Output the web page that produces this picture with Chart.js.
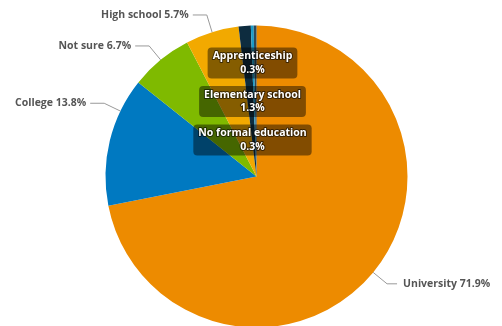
<!DOCTYPE html>
<html>
<head>
<meta charset="utf-8">
<script src="https://cdn.jsdelivr.net/npm/chart.js@4/dist/chart.umd.min.js"></script>
<style>
  html, body { margin: 0; padding: 0; background: #fff; }
  #wrap { width: 502px; height: 326px; }
</style>
</head>
<body>
<div id="wrap"><canvas id="education" width="502" height="326"></canvas></div>
<script>
const categories = ['University', 'College', 'Not sure', 'High school', 'Elementary school', 'Apprenticeship', 'No formal education']
const shares = [71.9, 13.8, 6.7, 5.7, 1.3, 0.3, 0.3]
const sliceColors = ['#ED8B00', '#0079C1', '#7FBA00', '#F2A900', '#0D2C3F', '#1A9CC9', '#2C4A5A']

// which slices get a label outside the pie, and which get a boxed label inside
const outsideLabels = ['University', 'College', 'Not sure', 'High school']
const insideLabels = ['Apprenticeship', 'Elementary school', 'No formal education']

const fmt = (v) => v.toFixed(1) + '%'

const sliceLabels = {
    id: 'sliceLabels',
    afterDatasetsDraw(chart, args, opts) {
        const ctx = chart.ctx
        const arcs = chart.getDatasetMeta(0).data
        ctx.save()

        // outside labels with a crooked connector
        ctx.font = 'bold 10.5px "Open Sans", sans-serif'
        ctx.textBaseline = 'middle'
        outsideLabels.forEach((name) => {
            const i = categories.indexOf(name)
            const arc = arcs[i]
            const shift = (opts.angleShift[name] || 0) * Math.PI / 180
            const a = (arc.startAngle + arc.endAngle) / 2 + shift
            const r = arc.outerRadius
            const tx = arc.x + r * Math.cos(a), ty = arc.y + r * Math.sin(a)
            const cx = arc.x + (r + 18) * Math.cos(a), cy = arc.y + (r + 18) * Math.sin(a)
            const right = Math.cos(a) > 0
            const lx = cx + (right ? 10 : -14)
            ctx.strokeStyle = '#999'
            ctx.lineWidth = 1
            ctx.beginPath()
            ctx.moveTo(tx, ty)
            ctx.lineTo(cx, cy)
            ctx.lineTo(lx, cy)
            ctx.stroke()
            ctx.fillStyle = '#555'
            ctx.textAlign = right ? 'left' : 'right'
            ctx.fillText(name + ' ' + fmt(shares[i]), lx + (right ? 6 : -4), cy)
        })

        // boxed labels for the thin slices, stacked down from the top
        const first = arcs[0]
        insideLabels.forEach((name, k) => {
            const i = categories.indexOf(name)
            const x = first.x - 4
            const y = first.y - first.outerRadius * 0.752 + k * 38.5
            const l1 = name, l2 = fmt(shares[i])
            const w = Math.max(ctx.measureText(l1).width, ctx.measureText(l2).width) + 10
            const h = 31
            ctx.fillStyle = 'rgba(0, 0, 0, 0.45)'
            ctx.beginPath()
            ctx.roundRect(x - w / 2, y - h / 2, w, h, 4)
            ctx.fill()
            ctx.textAlign = 'center'
            ctx.lineJoin = 'round'
            ctx.lineWidth = 2
            ctx.strokeStyle = 'rgba(0, 0, 0, 0.55)'
            ctx.fillStyle = '#fff'
            ctx.strokeText(l1, x, y - 6.5)
            ctx.fillText(l1, x, y - 6.5)
            ctx.strokeText(l2, x, y + 7)
            ctx.fillText(l2, x, y + 7)
        })
        ctx.restore()
    }
}

new Chart(document.getElementById('education'), {
    type: 'pie',
    data: {
        labels: categories,
        datasets: [{
            data: shares,
            backgroundColor: sliceColors,
            borderWidth: 0,
            radius: 151,
            clip: false
        }]
    },
    options: {
        responsive: false,
        animation: false,
        layout: { padding: { left: 11, top: 27 } },
        plugins: {
            legend: { display: false },
            tooltip: { enabled: false },
            sliceLabels: { angleShift: { 'College': 12 } }
        }
    },
    plugins: [sliceLabels]
})
</script>
</body>
</html>
